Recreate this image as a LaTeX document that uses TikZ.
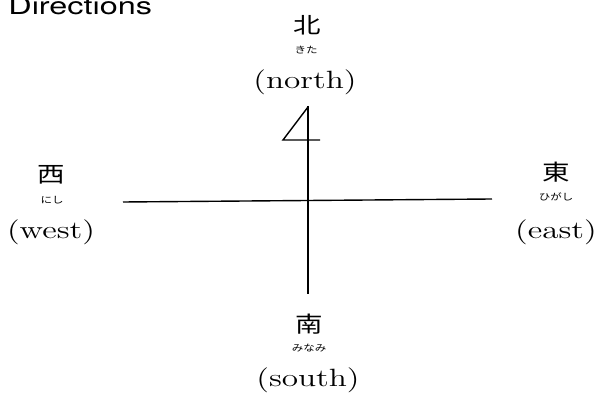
\documentclass[tikz,border=0pt]{standalone}
\usepackage{fontspec}
\newfontfamily\cjkfont{Noto Sans CJK JP}
\newfontfamily\headfont{TeX Gyre Heros}
\newcommand{\widetext}[2][1.25]{\scalebox{#1}[1]{#2}}

\begin{document}
\begin{tikzpicture}[x=0.5pt, y=-0.5pt,
    kanji/.style={inner sep=0pt, font=\cjkfont\fontsize{11}{11}\selectfont},
    kana/.style={inner sep=0pt, font=\cjkfont\fontsize{4.6}{5}\selectfont},
    eng/.style={inner sep=0pt, font=\fontsize{12.5}{13}\selectfont},
    axis/.style={line width=0.7pt}]
        \useasboundingbox (0,0) rectangle (601,395);
        \node[anchor=base west, inner sep=0pt, font=\headfont\fontsize{12}{12}\selectfont] (title) at (8,15) {\widetext[1.35]{Directions}};
        \node[kanji] (kita) at (307,25) {\widetext{北}};
        \node[kana] (kitaR) at (306,50) {\widetext{きた}};
        \node[eng] (north) at (305,82) {\widetext[1.33]{(north)}};
        \node[kanji] (nishi) at (51,175) {\widetext{西}};
        \node[kana] (nishiR) at (52,200) {\widetext{にし}};
        \node[eng] (west) at (51,232) {\widetext[1.33]{(west)}};
        \node[kanji] (higashi) at (556,172) {\widetext{東}};
        \node[kana] (higashiR) at (556,197) {\widetext{ひがし}};
        \node[eng] (east) at (556,232) {\widetext[1.33]{(east)}};
        \node[kanji] (minami) at (309,324) {\widetext{南}};
        \node[kana] (minamiR) at (309,348) {\widetext{みなみ}};
        \node[eng] (south) at (308,380) {\widetext[1.33]{(south)}};
        \coordinate (top) at (308,106);
        \coordinate (bottom) at (308,294);
        \coordinate (left) at (123,202);
        \coordinate (right) at (492,199);
        \coordinate (tip) at (308,107);
        \coordinate (corner) at (283,140);
        \coordinate (bar) at (320,140);
        \draw[axis] (top) -- (bottom);
        \draw[axis] (left) -- (right);
        \draw[axis] (tip) -- (corner) -- (bar);
      \end{tikzpicture}
\end{document}
